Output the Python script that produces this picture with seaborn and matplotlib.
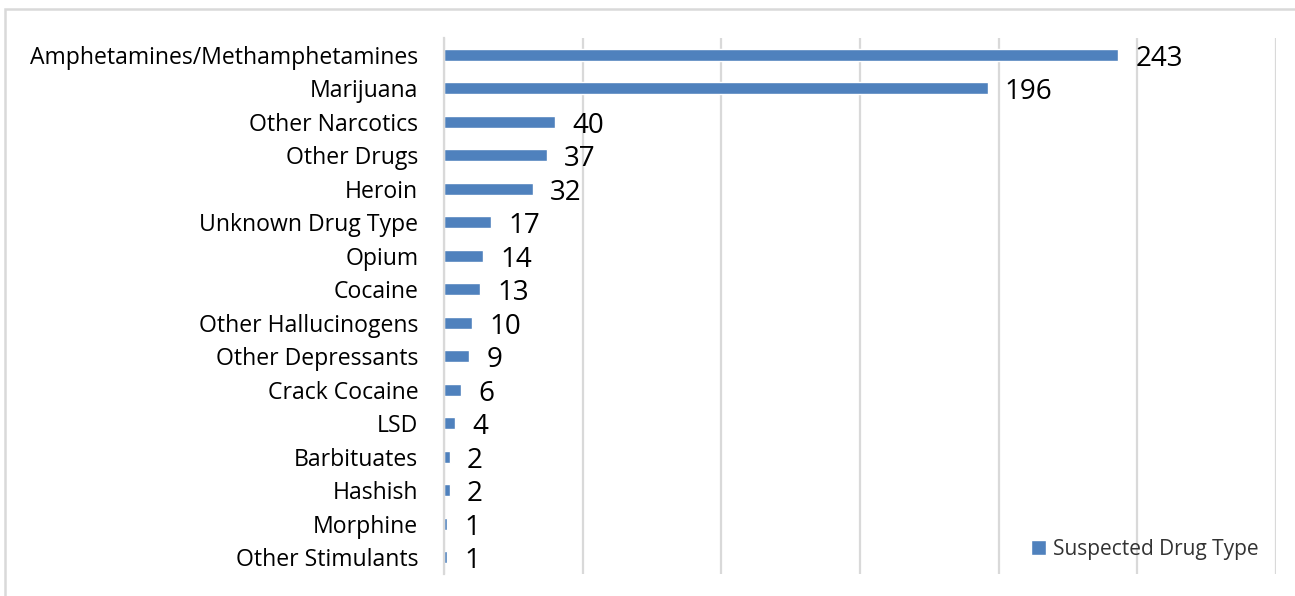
import numpy as np
import pandas as pd
import matplotlib
matplotlib.use("Agg")
import matplotlib.pyplot as plt
import seaborn as sns
from matplotlib.patches import Rectangle, Patch

drugs = [
    "Amphetamines/Methamphetamines",
    "Marijuana",
    "Other Narcotics",
    "Other Drugs",
    "Heroin",
    "Unknown Drug Type",
    "Opium",
    "Cocaine",
    "Other Hallucinogens",
    "Other Depressants",
    "Crack Cocaine",
    "LSD",
    "Barbituates",
    "Hashish",
    "Morphine",
    "Other Stimulants",
]
counts = [243, 196, 40, 37, 32, 17, 14, 13, 10, 9, 6, 4, 2, 2, 1, 1]
series_name = "Suspected Drug Type"

BAR_COLOR = "#4F81BD"
GRID_COLOR = "#D9D9D9"

df = pd.DataFrame({"drug": drugs, "count": counts})

sns.set_style("white")
plt.rcParams["font.family"] = ["Open Sans", "DejaVu Sans"]

fig = plt.figure(figsize=(12.95, 5.96), dpi=100)
ax = fig.add_axes([444 / 1295, 1 - 574 / 596, (1276 - 444) / 1295, (574 - 38) / 596])

sns.barplot(data=df, x="count", y="drug", color=BAR_COLOR, width=0.36,
            saturation=1, ax=ax, orient="h")

ax.set_xlim(0, 300)
ax.set_ylim(len(drugs) - 0.5, -0.5)
ax.set_xticks(np.arange(0, 301, 50))
ax.tick_params(axis="x", length=0, labelbottom=False)
ax.tick_params(axis="y", length=0, pad=18.5, labelsize=16.6, labelcolor="black")
ax.grid(axis="x", color=GRID_COLOR, linewidth=1.6)
ax.set_axisbelow(True)
for side in ["top", "right", "bottom"]:
    ax.spines[side].set_visible(False)
ax.spines["left"].set_color(GRID_COLOR)
ax.spines["left"].set_linewidth(1.6)
ax.set_xlabel("")
ax.set_ylabel("")

for i, v in enumerate(counts):
    ax.annotate(str(v), xy=(v, i), xytext=(12.5, -3), textcoords="offset points",
                va="center", ha="left", fontsize=20, color="black")

ax.legend(handles=[Patch(facecolor=BAR_COLOR, label=series_name)],
          loc="center left", bbox_to_anchor=(1012 / 1295, 1 - 549 / 596),
          bbox_transform=fig.transFigure, frameon=False, fontsize=15,
          handlelength=0.75, handleheight=0.75, handletextpad=0.3,
          labelcolor="#333333")

fig.patches.append(Rectangle((5 / 1295, -0.1), 1.2, 1 - 9 / 596 + 0.1,
                             transform=fig.transFigure, fill=False,
                             edgecolor="#D9D9D9", linewidth=1.8))

fig.savefig("out.png", dpi=100)
